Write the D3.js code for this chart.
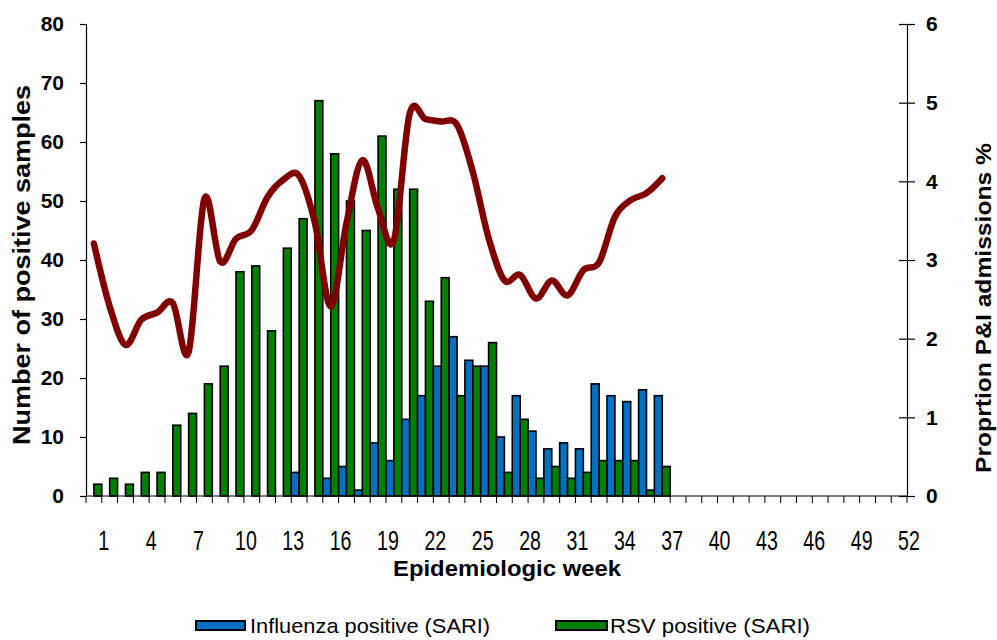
<!DOCTYPE html>
<html><head><meta charset="utf-8">
<script src="https://cdn.jsdelivr.net/npm/d3@7"></script>
<style>body{margin:0;background:#fff} svg{display:block}</style>
</head><body>
<svg id="c" width="997" height="640"></svg>
<script>
// ---- data ----
const weeks = d3.range(1, 53);
const dataWeeks = d3.range(1, 38);
const influenza = [0,0,0,0,0,0,0,0,0,0,0,0,0,4,0,3,5,1,9,6,13,17,22,27,23,22,10,17,11,8,9,8,19,17,16,18,17];
const rsv = [2,3,2,4,4,12,14,19,22,38,39,28,42,47,67,58,50,45,61,52,52,33,37,17,22,26,4,13,3,5,3,4,6,6,6,1,5];
const piProportion = [3.21,2.41,1.92,2.24,2.33,2.45,1.83,3.78,2.98,3.27,3.38,3.80,4.02,4.07,3.47,2.41,3.47,4.27,3.65,3.25,4.86,4.79,4.76,4.72,4.12,3.28,2.74,2.81,2.51,2.74,2.55,2.87,2.97,3.55,3.76,3.85,4.04];
const leftTicks = [0,10,20,30,40,50,60,70,80];
const rightTicks = [0,1,2,3,4,5,6];
const xTickLabels = [1,4,7,10,13,16,19,22,25,28,31,34,37,40,43,46,49,52];
const seriesNames = ["Influenza positive (SARI)", "RSV positive (SARI)"];
const colors = {flu: "#0070C0", rsv: "#008000", line: "#800000"};

// ---- layout ----
const svg = d3.select("#c");
const L = 86, R = 907, T = 24, B = 496;
const font = "'Liberation Sans', Arial, sans-serif";

const x = d3.scaleBand().domain(weeks).range([L, R]).paddingInner(0).paddingOuter(0);
const bw = x.bandwidth();
const yL = d3.scaleLinear().domain([0, 80]).range([B, T]);
const yR = d3.scaleLinear().domain([0, 6]).range([B, T]);

// bars
const barG = svg.append("g");
dataWeeks.forEach((w, i) => {
  barG.append("rect")
    .attr("x", x(w)).attr("width", bw / 2)
    .attr("y", yL(influenza[i])).attr("height", yL(0) - yL(influenza[i]))
    .attr("fill", colors.flu).attr("stroke", "#000").attr("stroke-width", 1.6);
  barG.append("rect")
    .attr("x", x(w) + bw / 2).attr("width", bw / 2)
    .attr("y", yL(rsv[i])).attr("height", yL(0) - yL(rsv[i]))
    .attr("fill", colors.rsv).attr("stroke", "#000").attr("stroke-width", 1.6);
});

// left axis
const ax = svg.append("g").attr("transform", `translate(${L},0)`)
  .call(d3.axisLeft(yL).tickValues(leftTicks).tickSize(6).tickSizeOuter(0).tickPadding(16).tickFormat(d3.format("d")));
ax.selectAll("text").attr("font-family", font).attr("font-weight", "bold").attr("font-size", 21).attr("fill", "#000");
ax.selectAll("line,path").attr("stroke", "#000").attr("stroke-width", 1.2);

// right axis
const ar = svg.append("g").attr("transform", `translate(${R},0)`)
  .call(d3.axisRight(yR).tickValues(rightTicks).tickSize(8).tickSizeOuter(0).tickPadding(11).tickFormat(d3.format("d")));
ar.selectAll(".tick line").attr("x1", -8);
ar.selectAll("text").attr("font-family", font).attr("font-weight", "bold").attr("font-size", 21).attr("fill", "#000");
ar.selectAll("line,path").attr("stroke", "#000").attr("stroke-width", 1.2);

// bottom axis
const bx = svg.append("g");
bx.append("line").attr("x1", L).attr("x2", R).attr("y1", B).attr("y2", B).attr("stroke", "#000").attr("stroke-width", 1.2);
weeks.concat([53]).forEach(w => {
  const px = w <= 52 ? x(w) : R;
  bx.append("line").attr("x1", px).attr("x2", px).attr("y1", B).attr("y2", B + 7).attr("stroke", "#000").attr("stroke-width", 1);
});
xTickLabels.forEach(w => {
  const px = x(w) + bw + 2;
  bx.append("text")
    .attr("transform", `translate(${px},${B + 54}) scale(0.7,1)`)
    .attr("text-anchor", "middle")
    .attr("font-family", font).attr("font-size", 28).attr("fill", "#000")
    .text(w);
});

// line
const line = d3.line()
  .x((d, i) => x(dataWeeks[i]) + bw / 2)
  .y(d => yR(d))
  .curve(d3.curveCardinal.tension(0));
svg.append("path").datum(piProportion)
  .attr("d", line).attr("fill", "none")
  .attr("stroke", colors.line).attr("stroke-width", 6.5)
  .attr("stroke-linecap", "round").attr("stroke-linejoin", "round");

// axis titles
svg.append("text")
  .attr("transform", "translate(22,265) rotate(-90)")
  .attr("text-anchor", "middle").attr("dominant-baseline", "central")
  .attr("font-family", font).attr("font-weight", "bold").attr("font-size", 23)
  .attr("textLength", 360).attr("lengthAdjust", "spacingAndGlyphs")
  .text("Number of positive samples");
svg.append("text")
  .attr("transform", "translate(983,308) rotate(-90)")
  .attr("text-anchor", "middle").attr("dominant-baseline", "central")
  .attr("font-family", font).attr("font-weight", "bold").attr("font-size", 22)
  .attr("textLength", 330).attr("lengthAdjust", "spacingAndGlyphs")
  .text("Proprtion P&I admissions %");
svg.append("text")
  .attr("x", 507).attr("y", 576)
  .attr("text-anchor", "middle")
  .attr("font-family", font).attr("font-weight", "bold").attr("font-size", 22)
  .attr("textLength", 228).attr("lengthAdjust", "spacingAndGlyphs")
  .text("Epidemiologic week");

// legend
const legend = [
  {name: seriesNames[0], color: colors.flu, sx: 196, sw: 49, tx: 250, tw: 240},
  {name: seriesNames[1], color: colors.rsv, sx: 556, sw: 51, tx: 610, tw: 200}
];
legend.forEach(l => {
  svg.append("rect").attr("x", l.sx).attr("y", 621).attr("width", l.sw).attr("height", 9)
    .attr("fill", l.color).attr("stroke", "#000").attr("stroke-width", 2);
  svg.append("text").attr("x", l.tx).attr("y", 633)
    .attr("font-family", font).attr("font-size", 21)
    .attr("textLength", l.tw).attr("lengthAdjust", "spacingAndGlyphs")
    .text(l.name);
});
</script>
</body></html>
